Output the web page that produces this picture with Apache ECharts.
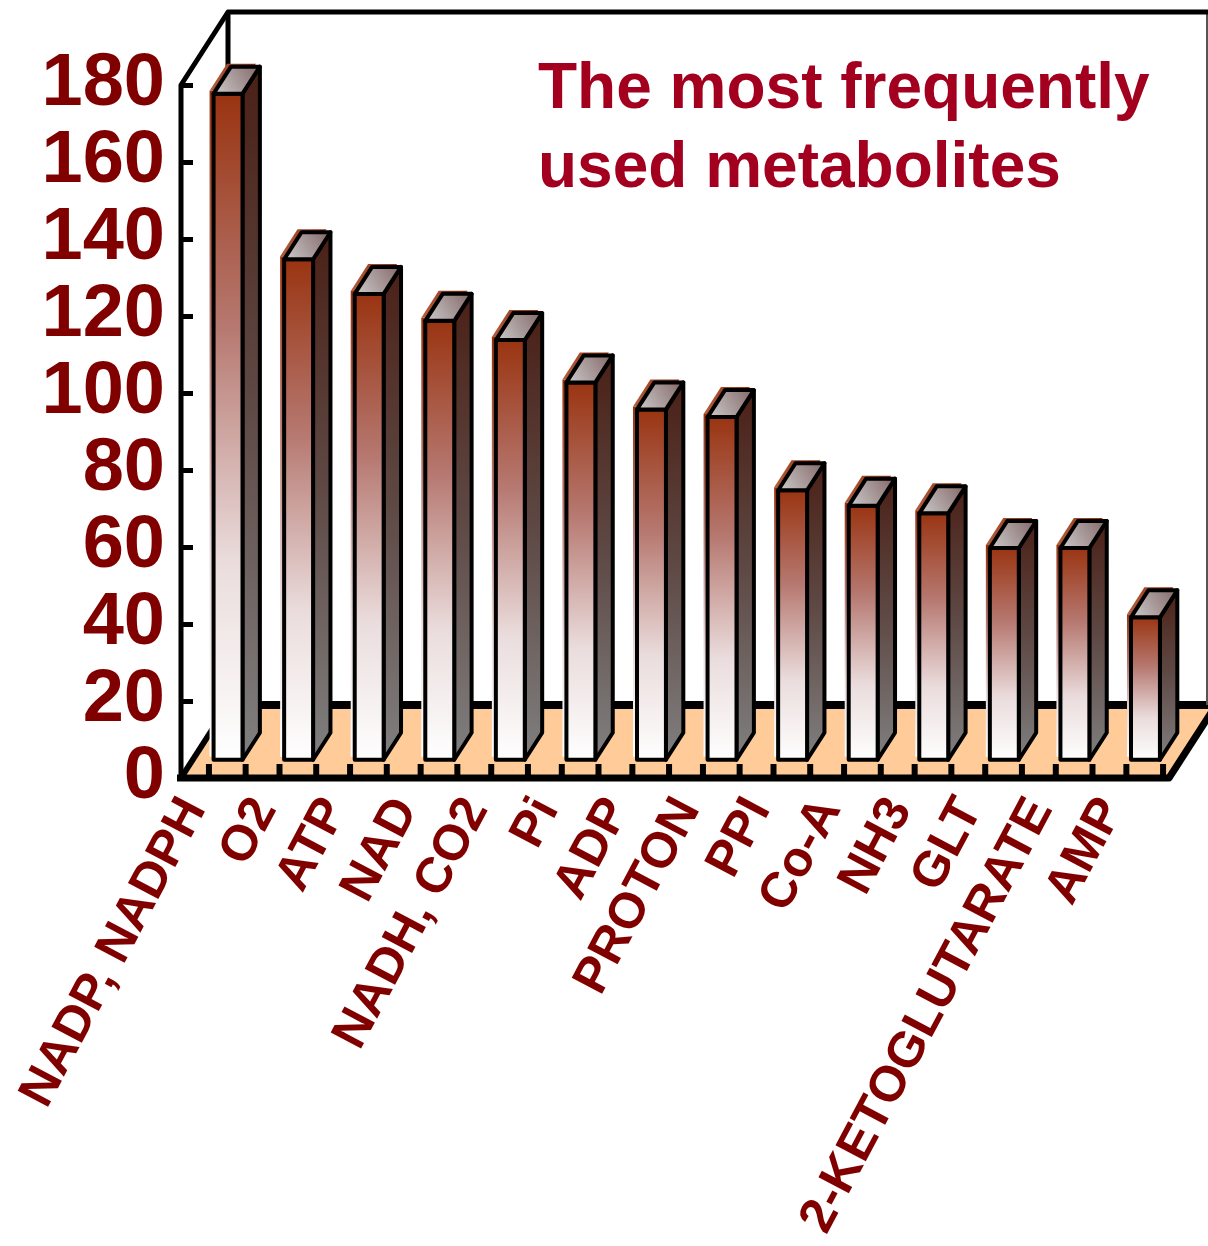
<!DOCTYPE html>
<html>
<head>
<meta charset="utf-8">
<title>The most frequently used metabolites</title>
<script src="https://cdn.jsdelivr.net/npm/echarts@6/dist/echarts.min.js"></script>
<style>
  html, body { margin: 0; padding: 0; background: #fff; }
  #chart { width: 1208px; height: 1246px; }
</style>
</head>
<body>
<div id="chart"></div>
<script type="text/javascript">
// data
var categories = ['NADP, NADPH', 'O2', 'ATP', 'NAD', 'NADH, CO2', 'Pi', 'ADP', 'PROTON',
                  'PPI', 'Co-A', 'NH3', 'GLT', '2-KETOGLUTARATE', 'AMP'];
var counts = [173, 130, 121, 114, 109, 98, 91, 89, 70, 66, 64, 55, 55, 37];

var DX = 47, DY = -73;      // depth of the floor (front -> back)
var F1 = 0.25, F2 = 0.62;   // bar sits between these depth fractions
var LABEL = '#800000';

var myChart = echarts.init(document.getElementById('chart'));

function line(pts, w, color) {
    return { type: 'polyline', shape: { points: pts },
             style: { stroke: color || '#000', lineWidth: w, fill: null, lineJoin: 'round', lineCap: 'butt' } };
}

// walls and floor, taken from the grid rectangle
function renderFrame(params, api) {
    var cs = params.coordSys;
    var x0 = cs.x, y0 = cs.y + cs.height, x1 = cs.x + cs.width, yt = cs.y;
    var bx0 = x0 + DX, by0 = y0 + DY, bx1 = x1 + DX, byt = yt + DY;
    var kids = [];
    kids.push({ type: 'polygon', shape: { points: [[x0, y0], [x1, y0], [bx1, by0], [bx0, by0]] },
                style: { fill: '#ffcc99' } });
    kids.push(line([[bx0, byt], [bx0, by0]], 5));
    kids.push(line([[bx0, by0], [bx1 + 20, by0]], 8));
    kids.push(line([[x1 + 38, byt], [x1 + 38, by0]], 2, '#555'));
    kids.push(line([[x0, y0], [bx0, by0]], 6));
    kids.push(line([[x0, y0], [x0, yt], [bx0, byt], [bx1 + 20, byt]], 5));
    kids.push(line([[x0 - 4, y0], [x1, y0], [bx1, by0]], 7));
    // little ticks on the front floor edge, one pair for every bar
    for (var k = 0; k < categories.length; k++) {
        var c = api.coord([k, 0]);
        var hw = api.size([1, 0])[0] * 0.26;
        [c[0] + 11 - hw, c[0] + 11 + hw].forEach(function (tx) {
            kids.push({ type: 'rect', shape: { x: tx - 3, y: y0 - 14, width: 6, height: 14 },
                        style: { fill: '#000' } });
        });
    }
    return { type: 'group', children: kids };
}

// one pseudo 3D column
function renderBar(params, api) {
    var i = api.value(0), v = api.value(1);
    var base = api.coord([i, 0]);
    var top = api.coord([i, v]);
    var bw = api.size([1, 0])[0] * 0.41;
    var xl = base[0] + F1 * DX - bw / 2, xr = xl + bw;
    var yb = base[1] + F1 * DY, yt = top[1] + F1 * DY;
    var ddx = (F2 - F1) * DX, ddy = (F2 - F1) * DY;

    var frontFill = new echarts.graphic.LinearGradient(0, 0, 0, 1, [
        { offset: 0, color: '#993310' }, { offset: 0.35, color: '#b67870' },
        { offset: 0.7, color: '#eadcdc' }, { offset: 1, color: '#ffffff' }]);
    var sideFill = new echarts.graphic.LinearGradient(0, 0, 0, 1, [
        { offset: 0, color: '#4a2016' }, { offset: 0.5, color: '#5f4a46' }, { offset: 1, color: '#808080' }]);
    var topFill = new echarts.graphic.LinearGradient(0, 1, 1, 0, [
        { offset: 0, color: '#d0d0d0' }, { offset: 1, color: '#806262' }]);
    var haloTop = new echarts.graphic.LinearGradient(0, 1, 1, 0, [
        { offset: 0, color: '#b06040' }, { offset: 1, color: '#993310' }]);

    var topPts = [[xl, yt], [xr, yt], [xr + ddx, yt + ddy], [xl + ddx, yt + ddy]];
    var edge = { stroke: '#000', lineWidth: 4, lineJoin: 'round' };
    return {
        type: 'group',
        children: [
            { type: 'rect', shape: { x: xl - 4, y: yt - 3, width: bw, height: yb - yt },
              style: { fill: frontFill } },
            { type: 'polygon', x: -4, y: -3, shape: { points: topPts }, style: { fill: haloTop } },
            { type: 'polygon', shape: { points: [[xr, yt], [xr + ddx, yt + ddy], [xr + ddx, yb + ddy], [xr, yb]] },
              style: Object.assign({ fill: sideFill }, edge) },
            { type: 'rect', shape: { x: xl, y: yt, width: bw, height: yb - yt },
              style: Object.assign({ fill: frontFill }, edge) },
            { type: 'polygon', shape: { points: topPts },
              style: Object.assign({ fill: topFill }, edge) }
        ]
    };
}

var option = {
    animation: false,
    textStyle: { fontFamily: 'Liberation Sans, Arial, sans-serif' },
    title: {
        text: 'The most frequently\nused metabolites',
        left: 533, top: 46,
        textStyle: { color: '#a3001f', fontSize: 64, fontWeight: 'bold', lineHeight: 79,
                     fontFamily: 'Liberation Sans, Arial, sans-serif' }
    },
    grid: { left: 181, top: 85, width: 988, height: 693, outerBoundsMode: 'none', containLabel: false },
    xAxis: {
        type: 'category',
        data: categories,
        axisLine: { show: false },
        axisTick: { show: false },
        axisLabel: { rotate: 62, margin: 36, interval: 0, color: LABEL,
                     verticalAlign: 'bottom', fontSize: 50, fontWeight: 'bold' }
    },
    yAxis: {
        type: 'value',
        min: 0, max: 180, interval: 20,
        splitLine: { show: false },
        axisLine: { show: false },
        axisTick: { show: true, inside: true, length: 12, lineStyle: { color: '#000', width: 5 } },
        axisLabel: { margin: 16, color: LABEL, fontSize: 74, fontWeight: 'bold' }
    },
    series: [
        {
            type: 'custom',
            z: 1,
            silent: true,
            renderItem: renderFrame,
            data: [0]
        },
        {
            type: 'custom',
            z: 3,
            renderItem: renderBar,
            encode: { x: 0, y: 1 },
            data: counts.map(function (c, i) { return [i, c]; })
        }
    ]
};

myChart.setOption(option);
</script>
</body>
</html>
